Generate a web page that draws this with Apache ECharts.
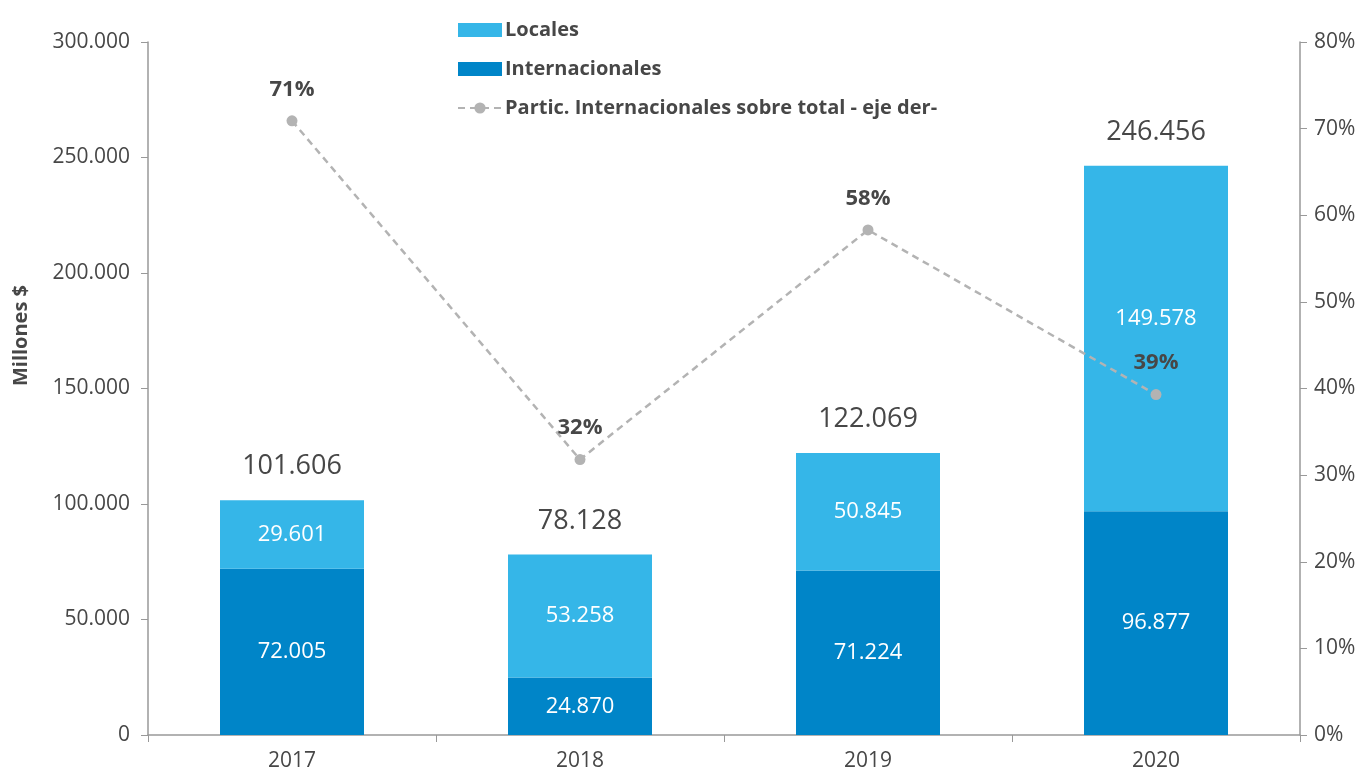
<!DOCTYPE html>
<html><head><meta charset="utf-8">
<script src="https://cdn.jsdelivr.net/npm/echarts@6/dist/echarts.min.js"></script>
<style>html,body{margin:0;padding:0;background:#fff}#c{width:1367px;height:775px}</style>
</head><body><div id="c"></div>
<script>
const categories = ['2017','2018','2019','2020'];
const internacionales = [72005, 24870, 71224, 96877];
const locales = [29601, 53258, 50845, 149578];
const totales = [101606, 78128, 122069, 246456];
const participacion = [70.9, 31.8, 58.3, 39.3];
const leftTicks = [0, 50000, 100000, 150000, 200000, 250000, 300000];
const rightTicks = [0, 10, 20, 30, 40, 50, 60, 70, 80];

const fmt = v => String(Math.round(v)).replace(/\B(?=(\d{3})+(?!\d))/g, '.');
const FONT = '"Open Sans", "Noto Sans", sans-serif';
const TXT = '#474747';

const chart = echarts.init(document.getElementById('c'), null, {renderer:'canvas'});
chart.setOption({
  animation: false,
  textStyle: {fontFamily: FONT},
  grid: {left: 148, right: 67, top: 42, bottom: 40, containLabel: false},
  legend: {
    data: [
      {name: 'Locales', icon: 'rect'},
      {name: 'Internacionales', icon: 'rect'},
      {name: 'Partic. Internacionales sobre total - eje der-'}
    ],
    orient: 'vertical', left: 452, top: 15, itemGap: 19,
    itemWidth: 44, itemHeight: 14,
    textStyle: {fontFamily: FONT, fontSize: 20, fontWeight: 'bold', color: TXT, padding: [0,0,0,-2]},
    selectedMode: false
  },
  graphic: [{
    type: 'text', left: 11, top: 285, rotation: Math.PI/2,
    style: {text: 'Millones $', font: 'bold 20px ' + FONT, fill: TXT}
  }],
  xAxis: {
    type: 'category', data: categories,
    axisLine: {lineStyle: {color: '#999', width: 1.5}},
    axisTick: {show: true, length: 7, lineStyle: {color: '#999'}},
    axisLabel: {fontSize: 21, color: TXT, margin: 16, fontFamily: FONT}
  },
  yAxis: [{
    type: 'value', min: 0, max: 300000, interval: 50000,
    axisLine: {show: true, lineStyle: {color: '#999', width: 1.5}},
    axisTick: {show: true, length: 7, lineStyle: {color: '#999'}},
    splitLine: {show: false},
    axisLabel: {fontSize: 21, color: TXT, margin: 18, fontFamily: FONT,
      formatter: v => leftTicks.includes(v) ? fmt(v) : ''}
  }, {
    type: 'value', min: 0, max: 80, interval: 10, position: 'right',
    axisLine: {show: true, lineStyle: {color: '#999', width: 1.5}},
    axisTick: {show: true, length: 7, lineStyle: {color: '#999'}},
    splitLine: {show: false},
    axisLabel: {fontSize: 21, color: TXT, margin: 14, fontFamily: FONT,
      formatter: v => rightTicks.includes(v) ? v + '%' : ''}
  }],
  series: [{
    name: 'Internacionales', type: 'bar', stack: 'total', barWidth: '50%',
    data: internacionales,
    itemStyle: {color: '#0085C8'},
    label: {show: true, position: 'inside', color: '#fff', fontSize: 22, fontFamily: FONT,
      formatter: p => fmt(p.value)}
  }, {
    name: 'Locales', type: 'bar', stack: 'total', barWidth: '50%',
    data: locales.map((v, i) => i === 3 ? {value: v, label: {offset: [0, -20]}} : v),
    itemStyle: {color: '#35B6E8'},
    label: {show: true, position: 'inside', color: '#fff', fontSize: 22, fontFamily: FONT,
      formatter: p => fmt(p.value)}
  }, {
    name: 'Total', type: 'bar', stack: 'total', barWidth: '50%',
    data: totales.map(() => 0),
    itemStyle: {color: 'transparent'},
    label: {show: true, position: 'top', distance: 20, color: TXT, fontSize: 27, fontFamily: FONT,
      formatter: p => fmt(totales[p.dataIndex])}
  }, {
    name: 'Partic. Internacionales sobre total - eje der-', type: 'line', yAxisIndex: 1,
    data: participacion,
    symbol: 'circle', symbolSize: 11,
    lineStyle: {color: '#B3B3B3', width: 2.5, type: [7, 5]},
    itemStyle: {color: '#B3B3B3'},
    label: {show: true, position: 'top', distance: 15, color: TXT, fontSize: 22, fontWeight: 'bold', fontFamily: FONT,
      formatter: p => Math.round(p.value) + '%'}
  }]
});
</script></body></html>
